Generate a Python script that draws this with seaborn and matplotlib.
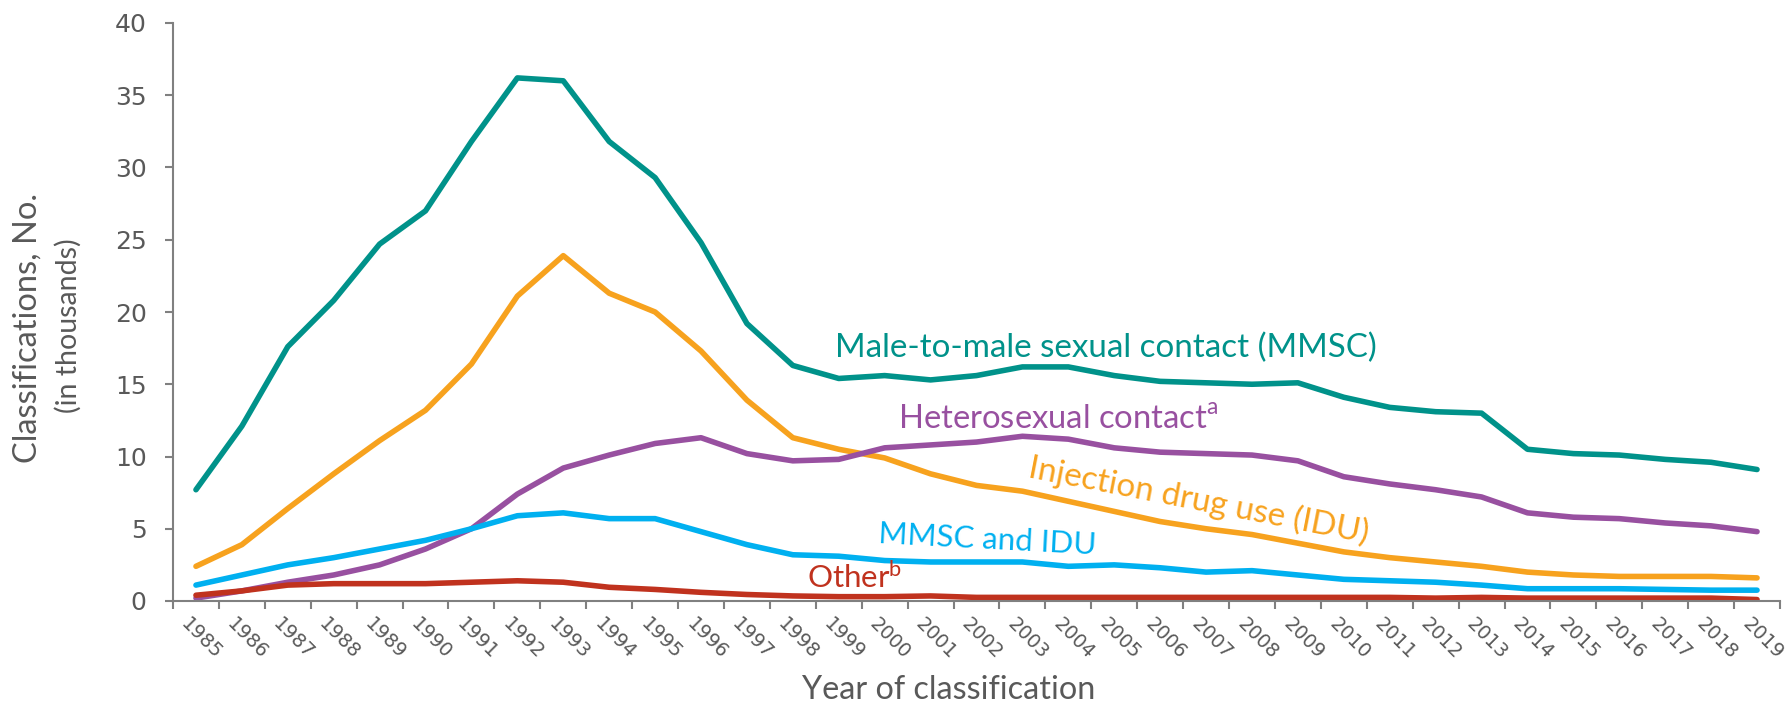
import matplotlib
matplotlib.use("Agg")
import matplotlib.pyplot as plt
import matplotlib.ticker as mticker
import matplotlib.transforms as mtransforms
import pandas as pd
import seaborn as sns

# Data (thousands of classifications)
years = list(range(1985, 2020))

mmsc = [7.7, 12.1, 17.6, 20.8, 24.7, 27.0, 31.8, 36.2, 36.0, 31.8,
        29.3, 24.8, 19.2, 16.3, 15.4, 15.6, 15.3, 15.6, 16.2, 16.2,
        15.6, 15.2, 15.1, 15.0, 15.1, 14.1, 13.4, 13.1, 13.0, 10.5,
        10.2, 10.1, 9.8, 9.6, 9.1]
idu = [2.4, 3.9, 6.4, 8.8, 11.1, 13.2, 16.4, 21.1, 23.9, 21.3,
       20.0, 17.3, 13.9, 11.3, 10.5, 9.9, 8.8, 8.0, 7.6, 6.9,
       6.2, 5.5, 5.0, 4.6, 4.0, 3.4, 3.0, 2.7, 2.4, 2.0,
       1.8, 1.7, 1.7, 1.7, 1.6]
hetero = [0.2, 0.7, 1.3, 1.8, 2.5, 3.6, 5.0, 7.4, 9.2, 10.1,
          10.9, 11.3, 10.2, 9.7, 9.8, 10.6, 10.8, 11.0, 11.4, 11.2,
          10.6, 10.3, 10.2, 10.1, 9.7, 8.6, 8.1, 7.7, 7.2, 6.1,
          5.8, 5.7, 5.4, 5.2, 4.8]
mmsc_idu = [1.1, 1.8, 2.5, 3.0, 3.6, 4.2, 5.0, 5.9, 6.1, 5.7,
            5.7, 4.8, 3.9, 3.2, 3.1, 2.8, 2.7, 2.7, 2.7, 2.4,
            2.5, 2.3, 2.0, 2.1, 1.8, 1.5, 1.4, 1.3, 1.1, 0.85,
            0.85, 0.85, 0.8, 0.75, 0.75]
other = [0.4, 0.7, 1.1, 1.2, 1.2, 1.2, 1.3, 1.4, 1.3, 0.95,
         0.8, 0.6, 0.45, 0.35, 0.3, 0.3, 0.35, 0.25, 0.25, 0.25,
         0.25, 0.25, 0.25, 0.25, 0.25, 0.25, 0.25, 0.2, 0.25, 0.2,
         0.2, 0.2, 0.2, 0.2, 0.1]

groups = ["MMSC", "IDU", "Hetero", "MMSC and IDU", "Other"]
colors = {"MMSC": "#00928A", "IDU": "#F7A21E", "Hetero": "#9850A0",
          "MMSC and IDU": "#00B0F0", "Other": "#C0321E"}

df = pd.concat([
    pd.DataFrame({"year": years, "value": vals, "group": name})
    for name, vals in zip(groups, [mmsc, idu, hetero, mmsc_idu, other])
])

sns.set_style("ticks")
plt.rcParams["font.family"] = ["Lato", "DejaVu Sans"]
plt.rcParams["mathtext.fontset"] = "custom"
plt.rcParams["mathtext.rm"] = "Lato"

gray = "#595959"
W, H = 1789, 709
fig = plt.figure(figsize=(W / 100, H / 100), dpi=100)
ax = fig.add_axes([173 / W, 1 - 601 / H, (1780 - 173) / W, (601 - 23) / H])

sns.lineplot(data=df, x="year", y="value", hue="group", hue_order=groups,
             palette=colors, linewidth=4, legend=False, ax=ax,
             solid_capstyle="round")

ax.set_xlim(1984.5, 2019.5)
ax.set_ylim(0, 40)
ax.set_yticks(range(0, 41, 5))
ax.tick_params(axis="y", labelsize=18, labelcolor=gray, color="#808080",
               length=6, width=1.5, pad=13)
for lab in ax.get_yticklabels():
    lab.set_fontfamily("DejaVu Sans")

# category-boundary ticks, labels at the centres
ax.xaxis.set_major_locator(mticker.FixedLocator([y - 0.5 for y in years] + [2019.5]))
ax.xaxis.set_major_formatter(mticker.NullFormatter())
ax.xaxis.set_minor_locator(mticker.FixedLocator(years))
ax.xaxis.set_minor_formatter(mticker.FixedFormatter([str(y) for y in years]))
ax.tick_params(axis="x", which="major", color="#808080", length=6, width=1.5)
ax.tick_params(axis="x", which="minor", length=0, pad=10, labelsize=14,
               labelcolor=gray)
shift = mtransforms.ScaledTranslation(-5 / 100, 0, fig.dpi_scale_trans)
for lab in ax.get_xticklabels(minor=True):
    lab.set_fontfamily("DejaVu Sans")
    lab.set_rotation(-45)
    lab.set_ha("left")
    lab.set_va("top")
    lab.set_rotation_mode("anchor")
    lab.set_transform(lab.get_transform() + shift)

sns.despine(ax=ax)
for side in ["left", "bottom"]:
    ax.spines[side].set_color("#808080")
    ax.spines[side].set_linewidth(1.5)

ax.set_xlabel("")
ax.set_ylabel("")


def fit(text, target_px, vertical=False):
    """scale a text's font so its drawn length matches the reference"""
    renderer = fig.canvas.get_renderer()
    bb = text.get_window_extent(renderer)
    size = bb.height if vertical else bb.width
    text.set_fontsize(text.get_fontsize() * target_px / size)


xl = fig.text(949 / W, 1 - 690 / H, "Year of classification", ha="center",
              va="center", fontsize=20, color=gray)
yl1 = fig.text(28 / W, 1 - 328 / H, "Classifications, No.", rotation=90,
               ha="center", va="center", fontsize=20, color=gray)
yl2 = fig.text(68 / W, 1 - 326 / H, "(in thousands)", rotation=90,
               ha="center", va="center", fontsize=20, color=gray)
fit(xl, 293)
fit(yl1, 270, vertical=True)
fit(yl2, 175, vertical=True)

# series labels
t_mmsc = ax.text(1998.92, 16.9, "Male-to-male sexual contact (MMSC)",
                 fontsize=22, color=colors["MMSC"], ha="left", va="baseline")
t_het = ax.text(2000.3, 11.9, r"Heterosexual contact$^{\mathrm{a}}$",
                fontsize=22, color=colors["Hetero"], ha="left", va="baseline")
t_idu = ax.text(2003.1, 8.6, "Injection drug use (IDU)", fontsize=22,
                color=colors["IDU"], ha="left", va="baseline",
                rotation_mode="anchor")
t_both = ax.text(1999.85, 4.0, "MMSC and IDU", fontsize=22,
                 color=colors["MMSC and IDU"], ha="left", va="baseline",
                 rotation_mode="anchor")
t_oth = ax.text(1998.3, 0.9, r"Other$^{\mathrm{b}}$", fontsize=22,
                color=colors["Other"], ha="left", va="baseline")
fit(t_mmsc, 540)
fit(t_het, 320)
fit(t_idu, 345)
fit(t_both, 217)
fit(t_oth, 95)
t_idu.set_rotation(-11)
t_both.set_rotation(-3)

fig.savefig("out.png", dpi=100)
